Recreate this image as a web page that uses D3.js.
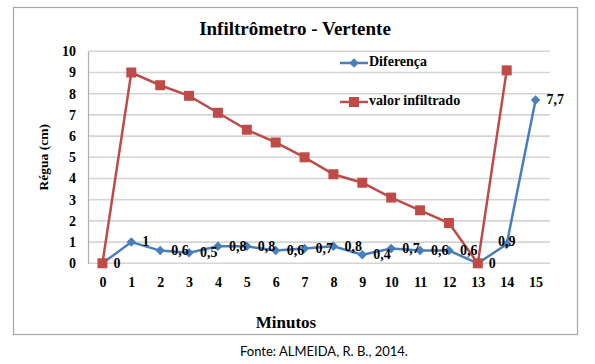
<!DOCTYPE html>
<html>
<head>
<meta charset="utf-8">
<script src="https://cdn.jsdelivr.net/npm/d3@7"></script>
<style>
  body { margin: 0; background: #fff; }
  svg text { font-family: "Liberation Serif", "Times New Roman", serif; font-weight: bold; }
  .fonte { font-family: Lato, "Noto Sans", sans-serif; font-weight: normal; }
</style>
</head>
<body>
<div id="chart"></div>
<script>
// minutes on the x axis
const minutes = [0, 1, 2, 3, 4, 5, 6, 7, 8, 9, 10, 11, 12, 13, 14, 15];
// Diferença (blue, diamonds)
const diferenca = [0, 1, 0.6, 0.5, 0.8, 0.8, 0.6, 0.7, 0.8, 0.4, 0.7, 0.6, 0.6, 0, 0.9, 7.7];
// valor infiltrado (red, squares) - no value at minute 15
const valorInfiltrado = [0, 9, 8.4, 7.9, 7.1, 6.3, 5.7, 5.0, 4.2, 3.8, 3.1, 2.5, 1.9, 0, 9.1];
const yTicks = [0, 1, 2, 3, 4, 5, 6, 7, 8, 9, 10];

const width = 595, height = 364;
const margin = ({ top: 51.3, right: 45, bottom: 100.7, left: 88 });
const blue = "#4a7ebb", red = "#be4b48";
const labelSize = 14;

const svg = d3.select("#chart")
    .append("svg")
    .attr("width", width)
    .attr("height", height);

// outer frame
svg.append("rect")
    .attr("x", 13.5).attr("y", 7.5)
    .attr("width", 564).attr("height", 327)
    .attr("fill", "#fff")
    .attr("stroke", "#a6a6a6")
    .attr("stroke-width", 1.2);

let x = d3.scalePoint()
    .domain(minutes)
    .range([margin.left, width - margin.right])
    .padding(0.5);

let y = d3.scaleLinear()
    .domain([0, 10])
    .range([height - margin.bottom, margin.top]);

// grid lines
svg.append("g")
    .selectAll("line")
    .data(yTicks)
    .join("line")
    .attr("x1", margin.left)
    .attr("x2", width - margin.right)
    .attr("y1", d => y(d))
    .attr("y2", d => y(d))
    .attr("stroke", "#d4d4d4")
    .attr("stroke-width", 1.6);

// Y axis
svg.append("g")
    .attr("transform", `translate(${margin.left},0)`)
    .call(d3.axisLeft(y).tickValues(yTicks).tickSize(0).tickPadding(12))
    .call(g => g.select(".domain").attr("stroke", "#b0b0b0").attr("stroke-width", 1.2))
    .call(g => g.selectAll("text").attr("font-size", labelSize).attr("fill", "#000")
        .attr("font-family", "Liberation Serif").attr("font-weight", "bold"));

// X axis labels (no axis line: the 0 grid line is the baseline)
svg.append("g")
    .attr("transform", `translate(0,${height - margin.bottom})`)
    .call(d3.axisBottom(x).tickSize(0).tickPadding(14))
    .call(g => g.select(".domain").remove())
    .call(g => g.selectAll("text").attr("font-size", labelSize).attr("fill", "#000")
        .attr("font-family", "Liberation Serif").attr("font-weight", "bold"));

// titles
svg.append("text")
    .attr("x", 295).attr("y", 35)
    .attr("text-anchor", "middle")
    .attr("font-size", 19)
    .text("Infiltrômetro - Vertente");

svg.append("text")
    .attr("x", 286).attr("y", 328)
    .attr("text-anchor", "middle")
    .attr("font-size", 17)
    .text("Minutos");

svg.append("text")
    .attr("transform", `translate(48,${(y(0) + y(10)) / 2}) rotate(-90)`)
    .attr("text-anchor", "middle")
    .attr("font-size", 13.5)
    .text("Régua (cm)");

svg.append("text")
    .attr("class", "fonte")
    .attr("x", 324).attr("y", 356)
    .attr("text-anchor", "middle")
    .attr("font-size", 13)
    .text("Fonte: ALMEIDA, R. B., 2014.");

let line = d3.line()
    .x((d, i) => x(minutes[i]))
    .y(d => y(d));

let diamond = d3.symbol().type(d3.symbolDiamond2).size(58);

// valor infiltrado
svg.append("path")
    .datum(valorInfiltrado)
    .attr("fill", "none")
    .attr("stroke", red)
    .attr("stroke-width", 2.5)
    .attr("d", line);

// Diferença
svg.append("path")
    .datum(diferenca)
    .attr("fill", "none")
    .attr("stroke", blue)
    .attr("stroke-width", 2.5)
    .attr("d", line);

svg.append("g")
    .selectAll("path")
    .data(diferenca)
    .join("path")
    .attr("transform", (d, i) => `translate(${x(minutes[i])},${y(d)})`)
    .attr("d", diamond)
    .attr("fill", blue);

svg.append("g")
    .selectAll("rect")
    .data(valorInfiltrado)
    .join("rect")
    .attr("x", (d, i) => x(minutes[i]) - 5)
    .attr("y", d => y(d) - 5)
    .attr("width", 10)
    .attr("height", 10)
    .attr("fill", red);

// data labels of Diferença, comma as decimal separator
const fmt = d => String(d).replace(".", ",");
svg.append("g")
    .selectAll("text")
    .data(diferenca)
    .join("text")
    .attr("x", (d, i) => x(minutes[i]) + (i === 14 ? 0 : 11))
    .attr("y", (d, i) => y(d) + (i === 14 ? -1 : 1))
    .attr("text-anchor", (d, i) => i === 14 ? "middle" : "start")
    .attr("dominant-baseline", "middle")
    .attr("font-size", labelSize)
    .attr("fill", "#000")
    .text(fmt);

// legend
const legend = [
    { name: "Diferença", color: blue, y: 63 },
    { name: "valor infiltrado", color: red, y: 102 }
];
let lg = svg.append("g")
    .selectAll("g")
    .data(legend)
    .join("g")
    .attr("transform", d => `translate(340,${d.y})`);
lg.append("line")
    .attr("x1", 0).attr("x2", 28)
    .attr("stroke", d => d.color)
    .attr("stroke-width", 2.5);
lg.filter((d, i) => i === 0).append("path")
    .attr("transform", "translate(14,0)")
    .attr("d", diamond)
    .attr("fill", blue);
lg.filter((d, i) => i === 1).append("rect")
    .attr("x", 9).attr("y", -5)
    .attr("width", 10).attr("height", 10)
    .attr("fill", red);
lg.append("text")
    .attr("x", 29)
    .attr("dominant-baseline", "middle")
    .attr("font-size", labelSize)
    .text(d => d.name);
</script>
</body>
</html>
